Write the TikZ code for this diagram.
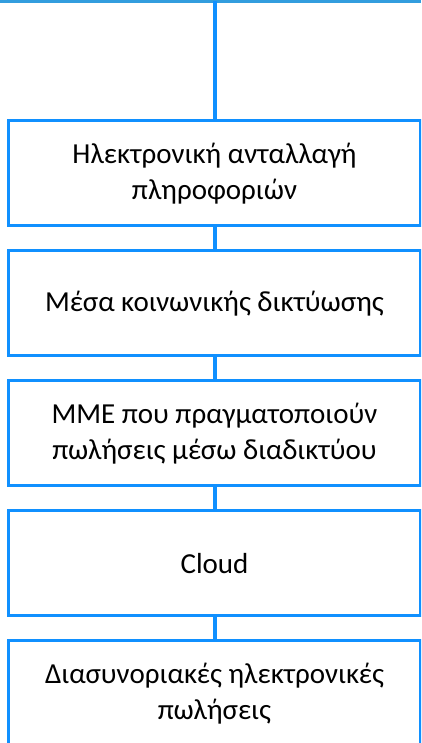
\documentclass[tikz,border=0pt]{standalone}
\usepackage{fontspec}
\setmainfont{Carlito}
\definecolor{bx}{RGB}{16,144,255}
\definecolor{topbar}{RGB}{50,157,222}
\begin{document}
\begin{tikzpicture}[x=1pt,y=1pt,
  box/.style={draw=bx, line width=3pt, fill=white, minimum width=412pt, minimum height=105pt,
    inner sep=0pt, align=center, anchor=north, font=\fontsize{29}{35.5}\selectfont},
  conn/.style={draw=bx, line width=4pt}]
\useasboundingbox (0,0) rectangle (421,743);
\begin{scope}
\clip (0,0) rectangle (421,743);
\fill[white] (0,0) rectangle (421,743);
\draw[topbar, line width=3pt] (0,741.5) -- (421,741.5);
\coordinate (top) at (214.5,741.5);
\node[box] (b1) at (214.5,623.5) {Ηλεκτρονική ανταλλαγή\\πληροφοριών};
\node[box] (b2) at (214.5,493.5) {Μέσα κοινωνικής δικτύωσης};
\node[box] (b3) at (214.5,363.5) {ΜΜΕ που πραγματοποιούν\\πωλήσεις μέσω διαδικτύου};
\node[box] (b4) at (214.5,233.5) {Cloud};
\node[box] (b5) at (214.5,103.5) {Διασυνοριακές ηλεκτρονικές\\πωλήσεις};
\draw[conn] (top) -- (b1.north);
\draw[conn] (b1.south) -- (b2.north);
\draw[conn] (b2.south) -- (b3.north);
\draw[conn] (b3.south) -- (b4.north);
\draw[conn] (b4.south) -- (b5.north);
\end{scope}
\end{tikzpicture}
\end{document}
